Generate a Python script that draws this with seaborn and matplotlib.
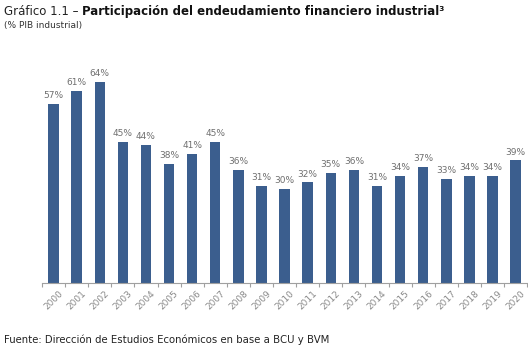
import numpy as np
import pandas as pd
import seaborn as sns
import matplotlib.pyplot as plt

years = [str(y) for y in range(2000, 2021)]
values = [57, 61, 64, 45, 44, 38, 41, 45, 36, 31, 30, 32, 35, 36, 31, 34, 37, 33, 34, 34, 39]

sns.set_style("white")
plt.rcParams['font.family'] = ['DejaVu Sans']

df = pd.DataFrame({"year": years, "value": values})

fig = plt.figure(figsize=(5.28, 3.53), dpi=100)
ax = fig.add_axes([0.0795, 0.198, 0.919, 0.624])

sns.barplot(data=df, x="year", y="value", color="#3b5e8e", saturation=1,
            width=0.45, linewidth=0, ax=ax)

for i, v in enumerate(values):
    ax.text(i, v + 1.2, f"{v}%", ha="center", va="bottom", fontsize=6.5, color="#6f6f6f")

ax.set_xlim(-0.5, len(years) - 0.5)
ax.set_ylim(0, 70)
ax.set_xlabel("")
ax.set_ylabel("")
ax.set_yticks([])
for s in ["top", "right", "left"]:
    ax.spines[s].set_visible(False)
ax.spines["bottom"].set_color("#a0a0a0")
ax.spines["bottom"].set_linewidth(0.8)

ax.set_xticks(np.arange(-0.5, len(years), 1), minor=True)
ax.tick_params(axis="x", which="minor", length=3, color="#a0a0a0", width=0.8, bottom=True)
ax.tick_params(axis="x", which="major", length=0, pad=4)
plt.setp(ax.get_xticklabels(), rotation=45, ha="center", fontsize=6.5, color="#8a8a8a")

# title: normal part + bold part
t1 = fig.text(0.008, 0.968, "Gráfico 1.1 – ", fontsize=8.5, color="#222222", va="center")
fig.canvas.draw()
bb = t1.get_window_extent(fig.canvas.get_renderer())
fig.text(bb.x1 / fig.bbox.width, 0.968, "Participación del endeudamiento financiero industrial³",
         fontsize=8.5, fontweight="bold", color="#111111", va="center")
fig.text(0.008, 0.927, "(% PIB industrial)", fontsize=6.5, color="#333333", va="center")

fig.text(0.008, 0.037, "Fuente: Dirección de Estudios Económicos en base a BCU y BVM",
         fontsize=7.3, color="#222222", va="center")

fig.savefig("out.png", dpi=100)
